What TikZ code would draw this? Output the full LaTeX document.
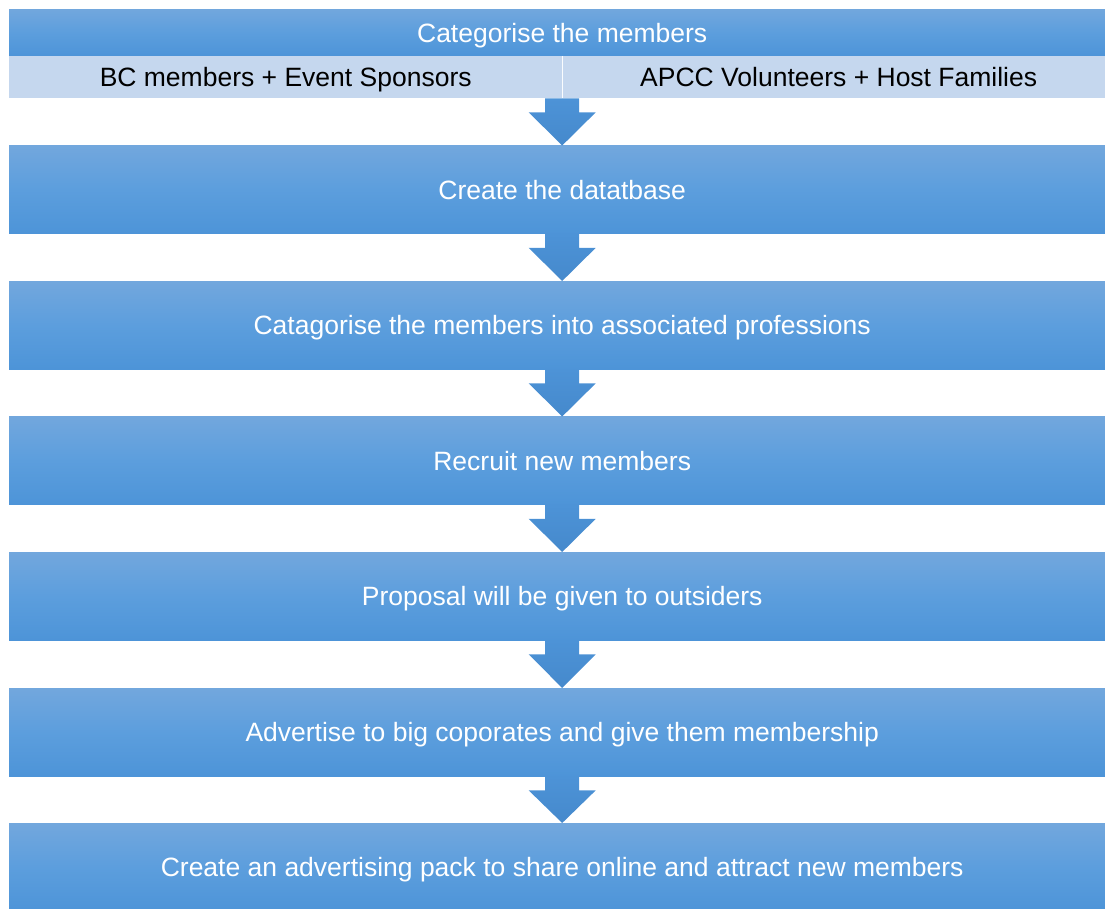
\documentclass[tikz,border=0pt]{standalone}
\usepackage{fontspec}
\setmainfont{Liberation Sans}
\usetikzlibrary{calc}
\definecolor{boxtop}{HTML}{72A7DD}
\definecolor{boxmid}{HTML}{5C9EDD}
\definecolor{boxbot}{HTML}{4D94D8}
\definecolor{subfill}{HTML}{C5D7EE}
\definecolor{arrowtop}{HTML}{4D93D7}
\definecolor{arrowbot}{HTML}{4589CC}
\tikzset{
  x=1pt,y=1pt,
  flowtext/.style={font=\fontsize{26.5}{30}\selectfont, text height=19pt, text depth=0pt},
  stepbox/.style={flowtext, minimum width=1106pt, minimum height=88pt, inner sep=0pt, anchor=north west,
    top color=boxtop, bottom color=boxbot, middle color=boxmid, draw=none, text=white},
  headbox/.style={stepbox, minimum height=47pt},
  subbox/.style={flowtext, minimum width=553pt, minimum height=42pt, inner sep=0pt, anchor=north west,
    fill=subfill, draw=none, text=black},
  downarrow/.style={top color=arrowtop, bottom color=arrowbot, draw=none}
}
\begin{document}
\begin{tikzpicture}
\useasboundingbox (0,0) rectangle (1105,909);
\clip (0,0) rectangle (1105,909);
% header
\node[headbox] (head) at (9,900) {Categorise the members};
\node[subbox] (subL) at (9,853) {BC members + Event Sponsors};
\node[subbox] (subR) at (562,853) {APCC Volunteers + Host Families};
\draw[white!92!subfill, line width=0.6pt] (subL.north east) -- (subL.south east);
% steps
\node[stepbox] (s1) at (9,763.5) {Create the datatbase};
\node[stepbox] (s2) at (9,628) {Catagorise the members into associated professions};
\node[stepbox] (s3) at (9,492.5) {Recruit new members};
\node[stepbox] (s4) at (9,357) {Proposal will be given to outsiders};
\node[stepbox] (s5) at (9,221) {Advertise to big coporates and give them membership};
\node[stepbox] (s6) at (9,86) {Create an advertising pack to share online and attract new members};
% arrows
\foreach \a/\b in {subL/s1,s1/s2,s2/s3,s3/s4,s4/s5,s5/s6}{
  \path[downarrow] ($(\b.north |- \a.south)+(-17,0)$) -- ++(34,0) -- ++(0,-14) -- ++(16.5,0)
    -- (\b.north) -- ($(\b.north |- \a.south)+(-33.5,-14)$) -- ++(16.5,0) -- cycle;
}
\end{tikzpicture}
\end{document}
